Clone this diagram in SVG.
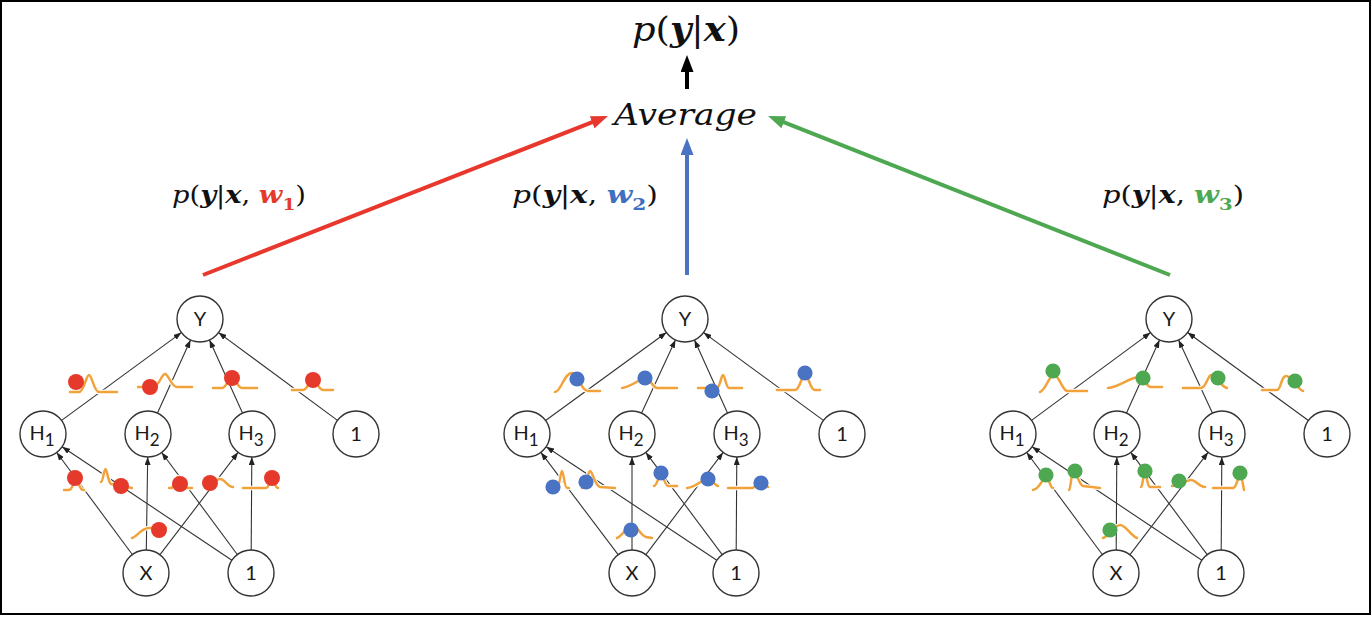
<svg xmlns="http://www.w3.org/2000/svg" width="1372" height="618" viewBox="0 0 1372 618">
<style>
.frame{fill:#fff;stroke:#000;stroke-width:2}
.node circle{fill:#fff;stroke:#333;stroke-width:1.4}
.node text{font-family:Lato,"Liberation Sans",sans-serif;font-size:20px;fill:#1a1a1a;text-anchor:middle}
.sub{font-size:17px}
.edge{stroke:#333;stroke-width:1.1;fill:none;marker-end:url(#ah)}
.big{stroke-width:4;fill:none}
.math{font-family:"DejaVu Serif","Liberation Serif",serif;font-style:italic;fill:#111}
.b{font-weight:bold}
.up{font-style:normal}
.dr{fill:#E53A2B}
.db{fill:#4A73C4}
.dg{fill:#4DA851}
.halo{fill:none;stroke:#fff;stroke-width:4.5;stroke-linecap:round}
.curve{fill:none;stroke:#F2A23A;stroke-width:2.5;stroke-linecap:round;stroke-linejoin:round}
</style>
<defs>
<marker id="ah" markerUnits="userSpaceOnUse" markerWidth="8" markerHeight="6" viewBox="0 0 8 6" refX="8" refY="3" orient="auto"><path d="M0,0 L8,3 L0,6 z" fill="#222"/></marker>
<marker id="ahR" markerUnits="userSpaceOnUse" markerWidth="17" markerHeight="13" viewBox="0 0 17 13" refX="5" refY="6.5" orient="auto"><path d="M0,0 L17,6.5 L0,13 z" fill="#E8372C"/></marker>
<marker id="ahB" markerUnits="userSpaceOnUse" markerWidth="17" markerHeight="13" viewBox="0 0 17 13" refX="5" refY="6.5" orient="auto"><path d="M0,0 L17,6.5 L0,13 z" fill="#4A73C4"/></marker>
<marker id="ahG" markerUnits="userSpaceOnUse" markerWidth="17" markerHeight="13" viewBox="0 0 17 13" refX="5" refY="6.5" orient="auto"><path d="M0,0 L17,6.5 L0,13 z" fill="#4DA851"/></marker>
<marker id="ahK" markerUnits="userSpaceOnUse" markerWidth="17" markerHeight="13" viewBox="0 0 17 13" refX="5" refY="6.5" orient="auto"><path d="M0,0 L17,6.5 L0,13 z" fill="#000"/></marker>
<g id="curvesL">
<path d="M70 392 H79 C84 392 86 375 89 375 C92 375 94 392 99 392 H117"/>
<path d="M138 387 H153 C159 387 161.4 374 165 374 C168.6 374 171 387 177 387 H192"/>
<path d="M213 388 H222 C227 388 229 376 232 376 C235 376 237 388 242 388 H257"/>
<path d="M292 390 H303 C308 390 310 378 313 378 C316 378 318 390 323 390 H333"/>
<path d="M64 490 H69 C72.5 490 73.9 480 76 480 C78.1 480 79.5 490 83 490 H84"/>
<path d="M101 482 C103 482 104 469 105.5 469 C107 469 108 482 111 484 L132 488"/>
<path d="M169 488 H171 C174.5 488 175.9 477 178 477 C180.1 477 181.5 488 185 488 H192"/>
<path d="M205 486 C212 486 215 479 220 479 C225 479 227 487 233 487"/>
<path d="M243 488 H266 C269 488 270.2 478 272 478 C273.8 478 275 488 278 488"/>
<path d="M132 538 C137 537 141 528 149 528 H166"/>
</g>
<g id="curvesM">
<path d="M555 392 C561 392 564 373 572 373 C578 373 581 391 588 391 H600"/>
<path d="M622 388 C632 387 640 378 646 378 C650 378 652 387 657 388 H677"/>
<path d="M698 388 H717 C720 388 721 375 723 375 C725 375 726 388 729 388 H742"/>
<path d="M777 390 H795 C800 390 802 374 805 374 C808 374 810 390 815 390 H820"/>
<path d="M549 488 H557 C559.5 488 560.5 471 562 471 C563.5 471 564.5 488 567 488 H569"/>
<path d="M582 488 C586 488 588 471 590 471 C593 471 594 485 600 487 L615 488"/>
<path d="M654 486 C657 486 659 474 661 474 C663 474 665 486 668 486 H677"/>
<path d="M687 488 C697 487 702 479 708 479 C713 479 714 485 718 486"/>
<path d="M728 488 H752 C756 488 758 480 761 480 C764 480 765 486 768 487"/>
<path d="M617 538 C623 536 627 525 632 525 C637 525 640 535 646 537 L652 538"/>
</g>
<g id="curvesR">
<path d="M1040 392 C1046 390 1049 375 1054 375 C1059 375 1062 390 1067 391 H1087"/>
<path d="M1108 388 C1120 387 1130 377 1139 377 C1144 377 1146 387 1151 387 H1162"/>
<path d="M1183 388 H1201 C1206 388 1208 375 1211 375 C1216 375 1220 386 1227 388"/>
<path d="M1262 390 H1277 C1281 390 1281 376 1286 376 C1292 376 1298 390 1303 391"/>
<path d="M1033 490 C1040 489 1043 477 1046 477 C1049 477 1050 488 1053 488"/>
<path d="M1069 490 C1071 489 1071 471 1074 471 C1077 471 1078 484 1083 486 L1100 488"/>
<path d="M1141 487 C1143 486 1143 473 1145 473 C1147 473 1147 487 1150 487 H1160"/>
<path d="M1172 486 C1180 486 1186 480 1191 480 C1196 480 1199 487 1205 487"/>
<path d="M1213 488 H1233 C1237 488 1238 475 1240 475 C1242 475 1243 486 1244 490"/>
<path d="M1103 538 C1110 536 1115 525 1120 525 C1126 525 1130 535 1137 538"/>
</g>
</defs>

<rect class="frame" x="1" y="1" width="1369" height="613"/>

<g id="connectors">
<line class="big" x1="203" y1="275" x2="596.8" y2="120.4" stroke="#E8372C" marker-end="url(#ahR)"/>
<line class="big" x1="687" y1="275" x2="687" y2="150" stroke="#4A73C4" marker-end="url(#ahB)"/>
<line class="big" x1="1170" y1="275" x2="779.2" y2="120.4" stroke="#4DA851" marker-end="url(#ahG)"/>
<line class="big" x1="687" y1="89" x2="687" y2="67" stroke="#000" marker-end="url(#ahK)"/>

<line class="edge" x1="61.6" y1="420.4" x2="181.4" y2="332.6"/>
<line class="edge" x1="157.5" y1="413" x2="190.5" y2="340"/>
<line class="edge" x1="242.5" y1="413" x2="209.5" y2="340"/>
<line class="edge" x1="337.5" y1="420.4" x2="218.5" y2="332.6"/>
<line class="edge" x1="132.3" y1="554.5" x2="56.7" y2="452.5"/>
<line class="edge" x1="146.3" y1="550" x2="147.7" y2="457"/>
<line class="edge" x1="160" y1="554.7" x2="238.1" y2="452.3"/>
<line class="edge" x1="231.9" y1="560.2" x2="62.1" y2="446.8"/>
<line class="edge" x1="237.3" y1="554.5" x2="161.7" y2="452.5"/>
<line class="edge" x1="251.2" y1="550" x2="251.8" y2="457"/>

<line class="edge" x1="545.6" y1="420.5" x2="666.4" y2="332.5"/>
<line class="edge" x1="641.6" y1="413.1" x2="675.4" y2="339.9"/>
<line class="edge" x1="727.5" y1="413" x2="694.5" y2="340"/>
<line class="edge" x1="823.4" y1="420.4" x2="703.6" y2="332.6"/>
<line class="edge" x1="618.1" y1="554.6" x2="540.9" y2="452.4"/>
<line class="edge" x1="632" y1="550" x2="632" y2="457"/>
<line class="edge" x1="645.9" y1="554.6" x2="723.1" y2="452.4"/>
<line class="edge" x1="716.8" y1="560.3" x2="546.2" y2="446.7"/>
<line class="edge" x1="722.2" y1="554.6" x2="645.8" y2="452.4"/>
<line class="edge" x1="736.2" y1="550" x2="736.8" y2="457"/>

<line class="edge" x1="1031.5" y1="420.4" x2="1150.5" y2="332.6"/>
<line class="edge" x1="1126.5" y1="413" x2="1159.5" y2="340"/>
<line class="edge" x1="1212.4" y1="413.1" x2="1178.6" y2="339.9"/>
<line class="edge" x1="1308.4" y1="420.5" x2="1187.6" y2="332.5"/>
<line class="edge" x1="1102.3" y1="554.5" x2="1026.7" y2="452.5"/>
<line class="edge" x1="1116.2" y1="550" x2="1116.8" y2="457"/>
<line class="edge" x1="1130" y1="554.7" x2="1208.1" y2="452.3"/>
<line class="edge" x1="1201.9" y1="560.2" x2="1032.1" y2="446.8"/>
<line class="edge" x1="1207.2" y1="554.6" x2="1130.8" y2="452.4"/>
<line class="edge" x1="1221.2" y1="550" x2="1221.8" y2="457"/>
</g>

<g id="weights">
<use href="#curvesL" class="halo"/><use href="#curvesM" class="halo"/><use href="#curvesR" class="halo"/>
<use href="#curvesL" class="curve"/><use href="#curvesM" class="curve"/><use href="#curvesR" class="curve"/>
<g id="dots-red" class="dr">
<circle cx="76" cy="382" r="8"/><circle cx="150" cy="387" r="8"/><circle cx="232" cy="378" r="8"/><circle cx="313" cy="380" r="8"/>
<circle cx="75" cy="478" r="8"/><circle cx="121" cy="486" r="8"/><circle cx="180" cy="484" r="8"/><circle cx="210" cy="483" r="8"/><circle cx="272" cy="478" r="8"/><circle cx="159" cy="530" r="8"/>
</g>
<g id="dots-blue" class="db">
<circle cx="577" cy="379" r="7.6"/><circle cx="645" cy="378" r="7.6"/><circle cx="712" cy="391" r="7.6"/><circle cx="805" cy="373" r="7.6"/>
<circle cx="553" cy="487" r="7.6"/><circle cx="586" cy="482" r="7.6"/><circle cx="661" cy="473" r="7.6"/><circle cx="708" cy="479" r="7.6"/><circle cx="761" cy="483" r="7.6"/><circle cx="631" cy="530" r="7.6"/>
</g>
<g id="dots-green" class="dg">
<circle cx="1053" cy="371" r="7.6"/><circle cx="1143" cy="378" r="7.6"/><circle cx="1218" cy="378" r="7.6"/><circle cx="1295" cy="381" r="7.6"/>
<circle cx="1046" cy="475" r="7.6"/><circle cx="1075" cy="471" r="7.6"/><circle cx="1145" cy="471" r="7.6"/><circle cx="1179" cy="481" r="7.6"/><circle cx="1240" cy="473" r="7.6"/><circle cx="1110" cy="530" r="7.6"/>
</g>
</g>

<!-- left network -->
<g id="n1-Y" class="node"><circle cx="200" cy="319" r="23"/><text x="200" y="326">Y</text></g>
<g id="n1-H1" class="node"><circle cx="43" cy="434" r="23"/><text x="42" y="440">H<tspan class="sub" dy="6">1</tspan></text></g>
<g id="n1-H2" class="node"><circle cx="148" cy="434" r="23"/><text x="147" y="440">H<tspan class="sub" dy="6">2</tspan></text></g>
<g id="n1-H3" class="node"><circle cx="252" cy="434" r="23"/><text x="251" y="440">H<tspan class="sub" dy="6">3</tspan></text></g>
<g id="n1-B1" class="node"><circle cx="356" cy="434" r="23"/><text x="356" y="441">1</text></g>
<g id="n1-X" class="node"><circle cx="146" cy="573" r="23"/><text x="146" y="580">X</text></g>
<g id="n1-B0" class="node"><circle cx="251" cy="573" r="23"/><text x="251" y="580">1</text></g>

<!-- middle network -->
<g id="n2-Y" class="node"><circle cx="685" cy="319" r="23"/><text x="685" y="326">Y</text></g>
<g id="n2-H1" class="node"><circle cx="527" cy="434" r="23"/><text x="526" y="440">H<tspan class="sub" dy="6">1</tspan></text></g>
<g id="n2-H2" class="node"><circle cx="632" cy="434" r="23"/><text x="631" y="440">H<tspan class="sub" dy="6">2</tspan></text></g>
<g id="n2-H3" class="node"><circle cx="737" cy="434" r="23"/><text x="736" y="440">H<tspan class="sub" dy="6">3</tspan></text></g>
<g id="n2-B1" class="node"><circle cx="842" cy="434" r="23"/><text x="842" y="441">1</text></g>
<g id="n2-X" class="node"><circle cx="632" cy="573" r="23"/><text x="632" y="580">X</text></g>
<g id="n2-B0" class="node"><circle cx="736" cy="573" r="23"/><text x="736" y="580">1</text></g>

<!-- right network -->
<g id="n3-Y" class="node"><circle cx="1169" cy="319" r="23"/><text x="1169" y="326">Y</text></g>
<g id="n3-H1" class="node"><circle cx="1013" cy="434" r="23"/><text x="1012" y="440">H<tspan class="sub" dy="6">1</tspan></text></g>
<g id="n3-H2" class="node"><circle cx="1117" cy="434" r="23"/><text x="1116" y="440">H<tspan class="sub" dy="6">2</tspan></text></g>
<g id="n3-H3" class="node"><circle cx="1222" cy="434" r="23"/><text x="1221" y="440">H<tspan class="sub" dy="6">3</tspan></text></g>
<g id="n3-B1" class="node"><circle cx="1327" cy="434" r="23"/><text x="1327" y="441">1</text></g>
<g id="n3-X" class="node"><circle cx="1116" cy="573" r="23"/><text x="1116" y="580">X</text></g>
<g id="n3-B0" class="node"><circle cx="1221" cy="573" r="23"/><text x="1221" y="580">1</text></g>

<!-- formulas -->
<g id="output">
<text class="math" x="632" y="41" font-size="33" textLength="108" lengthAdjust="spacingAndGlyphs">p<tspan class="up">(</tspan><tspan class="b">y</tspan><tspan class="up">|</tspan><tspan class="b">x</tspan><tspan class="up">)</tspan></text>
</g>
<g id="average">
<text class="math" x="614" y="125" font-size="30" textLength="143" lengthAdjust="spacingAndGlyphs">Average</text>
</g>
<g id="label-w1">
<text class="math" x="172" y="203" font-size="25" textLength="134" lengthAdjust="spacingAndGlyphs">p<tspan class="up">(</tspan><tspan class="b">y</tspan><tspan class="up">|</tspan><tspan class="b">x</tspan><tspan class="up">, </tspan><tspan class="b" fill="#E53A2B">w</tspan><tspan class="up b" fill="#E53A2B" font-size="17" dy="7">1</tspan><tspan class="up" dy="-7">)</tspan></text>
</g>
<g id="label-w2">
<text class="math" x="512" y="203" font-size="25" textLength="146" lengthAdjust="spacingAndGlyphs">p<tspan class="up">(</tspan><tspan class="b">y</tspan><tspan class="up">|</tspan><tspan class="b">x</tspan><tspan class="up">, </tspan><tspan class="b" fill="#3F6FC0">w</tspan><tspan class="up b" fill="#3F6FC0" font-size="17" dy="7">2</tspan><tspan class="up" dy="-7">)</tspan></text>
</g>
<g id="label-w3">
<text class="math" x="1102" y="203" font-size="25" textLength="142" lengthAdjust="spacingAndGlyphs">p<tspan class="up">(</tspan><tspan class="b">y</tspan><tspan class="up">|</tspan><tspan class="b">x</tspan><tspan class="up">, </tspan><tspan class="b" fill="#4DA851">w</tspan><tspan class="up b" fill="#4DA851" font-size="17" dy="7">3</tspan><tspan class="up" dy="-7">)</tspan></text>
</g>
</svg>
